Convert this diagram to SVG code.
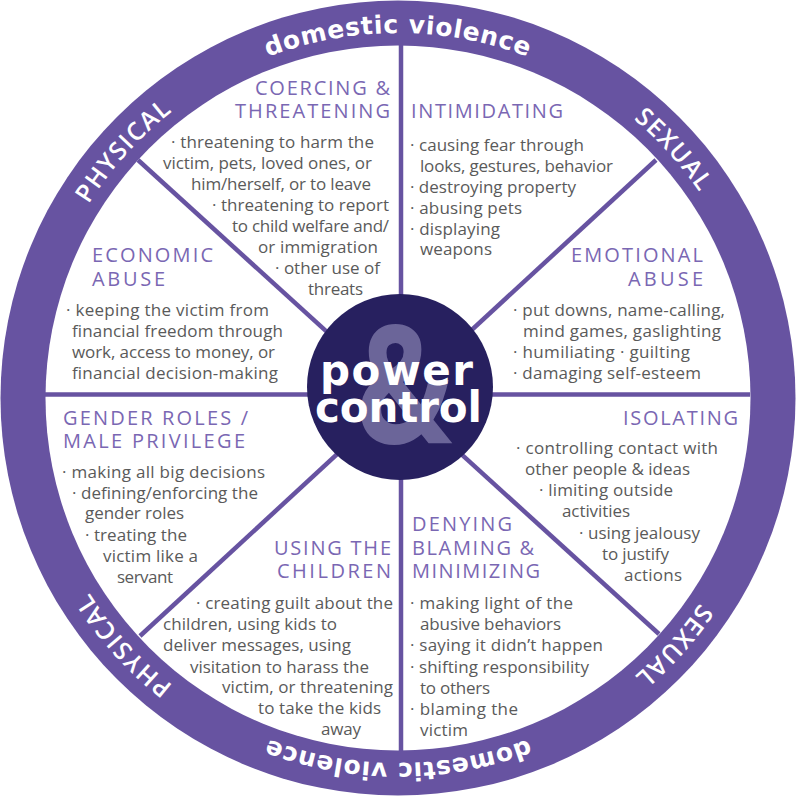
<svg xmlns="http://www.w3.org/2000/svg" width="796" height="799" viewBox="0 0 796 799">
<defs>
<style>
.h{font-family:"Open Sans","Liberation Sans",sans-serif;font-size:20px;fill:#7a67b3}
.b{font-family:"Open Sans","Liberation Sans",sans-serif;font-size:17px;fill:#5a5a5a}
.rc{font-family:"Open Sans","Liberation Sans",sans-serif;font-weight:600;font-size:25px;fill:#fff;letter-spacing:1.3px}
.rl{font-family:"DejaVu Sans","Liberation Sans",sans-serif;font-weight:bold;font-size:25px;fill:#fff;letter-spacing:0.7px}
.spoke{stroke:#6753a1;stroke-width:4.5;fill:none}
.ctr{font-family:"DejaVu Sans","Liberation Sans",sans-serif;font-weight:bold;font-size:42px;fill:#fff}
</style>
<path id="ringPath" d="M 33 398 A 365 365 0 1 1 763 398 A 365 365 0 1 1 33 398"/>
</defs>
<rect width="796" height="799" fill="#fff"/>
<g id="ring">
<circle cx="398" cy="398" r="397.5" fill="#6753a1"/>
<circle cx="398" cy="398" r="352.5" fill="#fff"/>
<text class="rl"><textPath href="#ringPath" startOffset="25%" text-anchor="middle">domestic violence</textPath></text>
<text class="rl"><textPath href="#ringPath" startOffset="75%" text-anchor="middle">domestic violence</textPath></text>
<text class="rc"><textPath href="#ringPath" startOffset="11.667%" text-anchor="middle">PHYSICAL</textPath></text>
<text class="rc"><textPath href="#ringPath" startOffset="88.333%" text-anchor="middle">PHYSICAL</textPath></text>
<text class="rc"><textPath href="#ringPath" startOffset="38.333%" text-anchor="middle">SEXUAL</textPath></text>
<text class="rc"><textPath href="#ringPath" startOffset="61.667%" text-anchor="middle">SEXUAL</textPath></text>
</g>
<g id="connectors">
<line class="spoke" x1="401" y1="45" x2="401" y2="751"/>
<line class="spoke" x1="45" y1="394.5" x2="750" y2="394.5"/>
<line class="spoke" x1="138" y1="160" x2="659" y2="634"/>
<line class="spoke" x1="656" y1="160" x2="140" y2="636"/>
</g>
<g id="center">
<circle cx="400" cy="387" r="93" fill="#27205f"/>
<text transform="translate(404 443) scale(0.78 1)" font-family="Open Sans, Liberation Sans, sans-serif" font-weight="700" font-size="165" fill="#6b6599" text-anchor="middle">&amp;</text>
<text class="ctr" x="320" y="385" textLength="153">power</text>
<text class="ctr" x="315" y="422" textLength="167">control</text>
</g>
<g id="coercing">
<text class="h" x="255" y="95" textLength="135">COERCING &amp;</text>
<text class="h" x="235" y="118" textLength="155">THREATENING</text>
<text class="b" x="171" y="147.5" textLength="203">· threatening to harm the</text>
<text class="b" x="163" y="168.5" textLength="209">victim, pets, loved ones, or</text>
<text class="b" x="191" y="189.5" textLength="180">him/herself, or to leave</text>
<text class="b" x="212" y="210.5" textLength="177">· threatening to report</text>
<text class="b" x="232" y="231.5" textLength="157">to child welfare and/</text>
<text class="b" x="258" y="252.5" textLength="120">or immigration</text>
<text class="b" x="275" y="273.5" textLength="105">· other use of</text>
<text class="b" x="308" y="294.5" textLength="55">threats</text>
</g>
<g id="intimidating">
<text class="h" x="411" y="118" textLength="152">INTIMIDATING</text>
<text class="b" x="410" y="150.5" textLength="174">· causing fear through</text>
<text class="b" x="420" y="172" textLength="193">looks, gestures, behavior</text>
<text class="b" x="410" y="193" textLength="166">· destroying property</text>
<text class="b" x="410" y="213.5" textLength="112">· abusing pets</text>
<text class="b" x="410" y="234.5" textLength="90">· displaying</text>
<text class="b" x="420" y="255" textLength="72">weapons</text>
</g>
<g id="economic">
<text class="h" x="92" y="262" textLength="121">ECONOMIC</text>
<text class="h" x="92" y="286" textLength="73">ABUSE</text>
<text class="b" x="66" y="316" textLength="203">· keeping the victim from</text>
<text class="b" x="72" y="337" textLength="211">financial freedom through</text>
<text class="b" x="72" y="358" textLength="203">work, access to money, or</text>
<text class="b" x="72" y="379" textLength="206">financial decision-making</text>
</g>
<g id="emotional">
<text class="h" x="571" y="262" textLength="132">EMOTIONAL</text>
<text class="h" x="628" y="286" textLength="75">ABUSE</text>
<text class="b" x="513" y="316" textLength="212">· put downs, name-calling,</text>
<text class="b" x="523" y="337" textLength="198">mind games, gaslighting</text>
<text class="b" x="513" y="358" textLength="177">· humiliating · guilting</text>
<text class="b" x="513" y="379" textLength="188">· damaging self-esteem</text>
</g>
<g id="gender">
<text class="h" x="63" y="425" textLength="185">GENDER ROLES /</text>
<text class="h" x="63" y="448" textLength="182">MALE PRIVILEGE</text>
<text class="b" x="62" y="478" textLength="203">· making all big decisions</text>
<text class="b" x="72" y="499" textLength="186">· defining/enforcing the</text>
<text class="b" x="85" y="519" textLength="99">gender roles</text>
<text class="b" x="85" y="541" textLength="102">· treating the</text>
<text class="b" x="103" y="562" textLength="95">victim like a</text>
<text class="b" x="117" y="583" textLength="56">servant</text>
</g>
<g id="isolating">
<text class="h" x="623" y="425" textLength="115">ISOLATING</text>
<text class="b" x="516" y="454" textLength="202">· controlling contact with</text>
<text class="b" x="525" y="474.5" textLength="165">other people &amp; ideas</text>
<text class="b" x="539" y="496" textLength="134">· limiting outside</text>
<text class="b" x="562" y="517" textLength="68">activities</text>
<text class="b" x="579" y="539" textLength="121">· using jealousy</text>
<text class="b" x="602" y="559.5" textLength="67">to justify</text>
<text class="b" x="624" y="580.5" textLength="58">actions</text>
</g>
<g id="children">
<text class="h" x="274" y="555" textLength="117">USING THE</text>
<text class="h" x="277" y="578" textLength="114">CHILDREN</text>
<text class="b" x="196" y="609" textLength="197">· creating guilt about the</text>
<text class="b" x="163" y="630" textLength="174">children, using kids to</text>
<text class="b" x="163" y="651" textLength="188">deliver messages, using</text>
<text class="b" x="190" y="673" textLength="179">visitation to harass the</text>
<text class="b" x="222" y="693" textLength="171">victim, or threatening</text>
<text class="b" x="258" y="714" textLength="123">to take the kids</text>
<text class="b" x="321" y="735" textLength="40">away</text>
</g>
<g id="denying">
<text class="h" x="412" y="531" textLength="100">DENYING</text>
<text class="h" x="412" y="555" textLength="122">BLAMING &amp;</text>
<text class="h" x="412" y="578" textLength="128">MINIMIZING</text>
<text class="b" x="410" y="609" textLength="163">· making light of the</text>
<text class="b" x="420" y="630" textLength="141">abusive behaviors</text>
<text class="b" x="410" y="651" textLength="193">· saying it didn’t happen</text>
<text class="b" x="410" y="673" textLength="179">· shifting responsibility</text>
<text class="b" x="420" y="694" textLength="70">to others</text>
<text class="b" x="410" y="715" textLength="108">· blaming the</text>
<text class="b" x="420" y="736" textLength="48">victim</text>
</g>
</svg>
